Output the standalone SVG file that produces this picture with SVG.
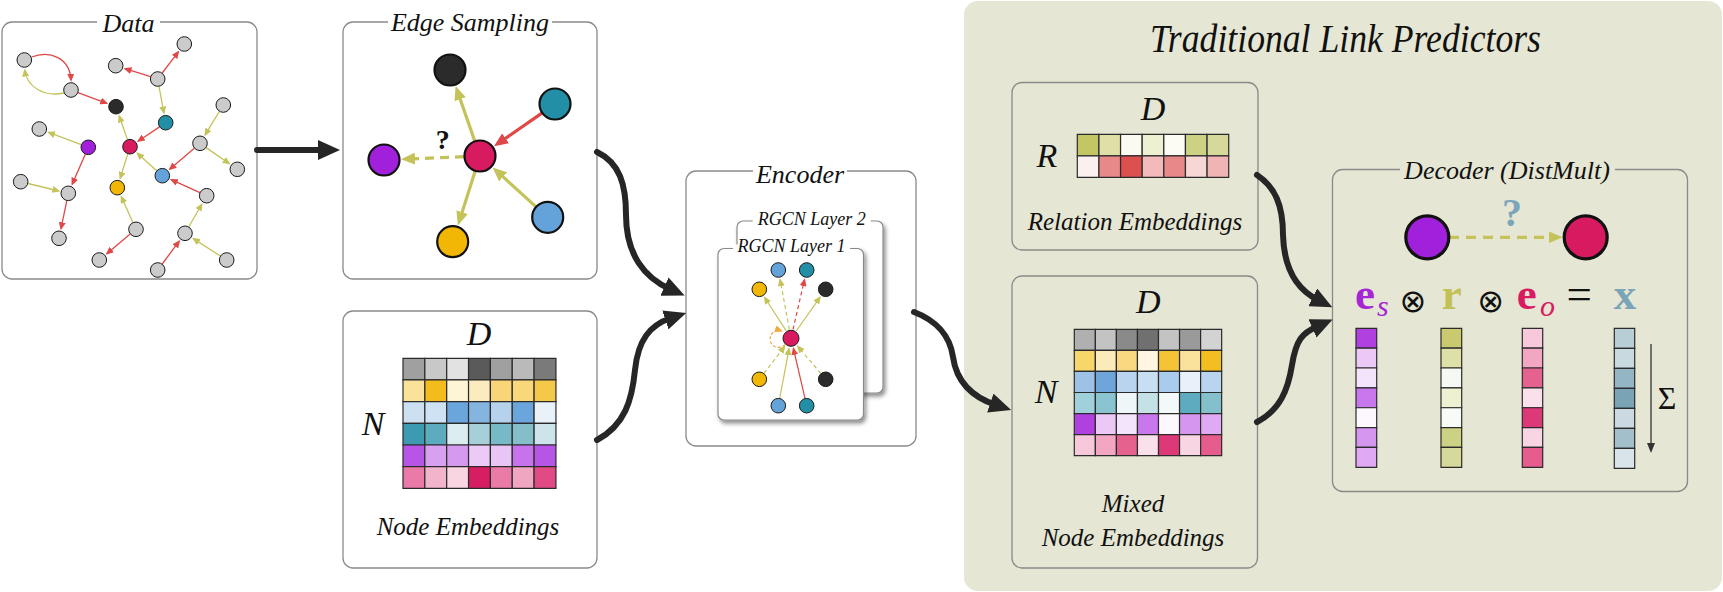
<svg xmlns="http://www.w3.org/2000/svg" width="1723" height="592" viewBox="0 0 1723 592">
<defs>
<style>
text{font-family:"Liberation Serif","Times New Roman",serif;fill:#111}
.ttl{font-size:26px;font-style:italic;text-anchor:middle}
.sub{font-size:18px;font-style:italic;text-anchor:middle}
.lab{font-size:25px;font-style:italic;text-anchor:middle}
.mat{font-size:34px;font-style:italic;text-anchor:middle}
.box{fill:#fff;stroke:#8a8a8a;stroke-width:1.3}
.boxp{fill:none;stroke:#8a8a8a;stroke-width:1.3}
.lay{fill:#fff;stroke:#8a8a8a;stroke-width:1.2}
.gapw{fill:#fff}
.gapp{fill:#e5e6d3}
.c rect{stroke:#2b2b2b;stroke-width:1.2;vector-effect:non-scaling-stroke}
.dn{stroke:#1a1a1a;stroke-width:1}
.bn{stroke:#111;stroke-width:2.2}
.dnn{stroke:#111;stroke-width:3.2}
.g{fill:#cbcbcb}.k{fill:#2b2b2b}.t{fill:#238fa6}.p{fill:#a020dc}.m{fill:#d81b60}.b{fill:#64a3d9}.y{fill:#f2b705}
.er{stroke:#e04848;fill:none}
.ey{stroke:#c4c35a;fill:none}
.d1 path{stroke-width:1.3}
.d3 path{stroke-width:1.2}
.dash{stroke-dasharray:4 3}
.big{stroke:#262626;stroke-width:6;fill:none;stroke-linecap:round}
.eq{font-size:45px;font-weight:bold}
.eqs{font-size:30px;font-style:italic}
.op{font-family:"DejaVu Sans",sans-serif;font-size:32px;text-anchor:middle}
</style>
<marker id="sr" viewBox="0 0 8 7" markerWidth="8" markerHeight="7" refX="6.5" refY="3.5" orient="auto" markerUnits="userSpaceOnUse"><path d="M0,0L8,3.5L0,7z" fill="#e04848"/></marker>
<marker id="sy" viewBox="0 0 8 7" markerWidth="8" markerHeight="7" refX="6.5" refY="3.5" orient="auto" markerUnits="userSpaceOnUse"><path d="M0,0L8,3.5L0,7z" fill="#c4c35a"/></marker>
<marker id="so" viewBox="0 0 8 7" markerWidth="8" markerHeight="7" refX="6.5" refY="3.5" orient="auto" markerUnits="userSpaceOnUse"><path d="M0,0L8,3.5L0,7z" fill="#f2a93b"/></marker>
<marker id="mr" viewBox="0 0 14 12" markerWidth="14" markerHeight="12" refX="10" refY="6" orient="auto" markerUnits="userSpaceOnUse"><path d="M0,0L14,6L0,12z" fill="#e04848"/></marker>
<marker id="my" viewBox="0 0 14 12" markerWidth="14" markerHeight="12" refX="10" refY="6" orient="auto" markerUnits="userSpaceOnUse"><path d="M0,0L14,6L0,12z" fill="#c4c35a"/></marker>
<marker id="bk" viewBox="0 0 22 20" markerWidth="22" markerHeight="20" refX="6" refY="10" orient="auto" markerUnits="userSpaceOnUse"><path d="M0,0L22,10L0,20z" fill="#262626"/></marker>
<marker id="tk" viewBox="0 0 10 8" markerWidth="10" markerHeight="8" refX="8" refY="4" orient="auto" markerUnits="userSpaceOnUse"><path d="M0,0L10,4L0,8z" fill="#333"/></marker>
<filter id="sh" x="-10%" y="-10%" width="130%" height="130%"><feDropShadow dx="2" dy="3" stdDeviation="2" flood-color="#000" flood-opacity="0.45"/></filter>
</defs>
<rect x="0" y="0" width="1723" height="592" fill="#fff"/>

<g id="panel-traditional">
<rect x="964" y="1" width="758" height="590" rx="14" fill="#e5e6d3"/>
<text x="1150" y="51.7" font-size="40" font-style="italic" textLength="391" lengthAdjust="spacingAndGlyphs">Traditional Link Predictors</text>
</g>

<g id="node-data">
<rect class="box" x="2" y="22" width="255" height="257" rx="10"/>
<rect class="gapw" x="97" y="18" width="63" height="8"/>
<text class="ttl" x="128.5" y="31.5">Data</text>
<g class="d1">
<path class="er" d="M31.5,57 C50,50 70,58 71,80.2" marker-end="url(#sr)"/>
<path class="ey" d="M64,93 C45,97 27,88 24.8,70" marker-end="url(#sy)"/>
<path class="er" d="M78,92.6L106.8,103.3" marker-end="url(#sr)"/>
<path class="er" d="M150.6,76.7L125,68.7" marker-end="url(#sr)"/>
<path class="er" d="M162.2,73L178.4,51.8" marker-end="url(#sr)"/>
<path class="ey" d="M159,86.4L163.9,113.1" marker-end="url(#sy)"/>
<path class="er" d="M159.5,126.9L138.1,141.2" marker-end="url(#sr)"/>
<path class="ey" d="M219.4,111.4L205.1,134.9" marker-end="url(#sy)"/>
<path class="ey" d="M206.2,147.6L229.3,163.7" marker-end="url(#sy)"/>
<path class="er" d="M194.3,148.2L169.7,169.3" marker-end="url(#sr)"/>
<path class="ey" d="M81.3,144.7L48.5,132.4" marker-end="url(#sy)"/>
<path class="er" d="M85.3,154.2L72.2,184.3" marker-end="url(#sr)"/>
<path class="ey" d="M28,183.5L58.8,191" marker-end="url(#sy)"/>
<path class="er" d="M66.8,200.6L61,228.7" marker-end="url(#sr)"/>
<path class="ey" d="M127.5,139.6L119.2,116" marker-end="url(#sy)"/>
<path class="ey" d="M127.8,153.9L120.2,178.3" marker-end="url(#sy)"/>
<path class="ey" d="M156.7,170.7L137.3,153.3" marker-end="url(#sy)"/>
<path class="er" d="M199.9,192.6L171.2,179.7" marker-end="url(#sr)"/>
<path class="ey" d="M132.9,222.5L121.3,196.6" marker-end="url(#sy)"/>
<path class="er" d="M130.2,234.1L106.8,253.7" marker-end="url(#sr)"/>
<path class="ey" d="M188.8,226.8L201.8,204.2" marker-end="url(#sy)"/>
<path class="er" d="M162.2,264L179.2,241.2" marker-end="url(#sr)"/>
<path class="ey" d="M220.4,256L193.3,238.6" marker-end="url(#sy)"/>
</g>
<g class="dn">
<circle class="g" cx="24.3" cy="60" r="7.3"/>
<circle class="g" cx="71" cy="90" r="7.3"/>
<circle class="k" cx="116" cy="106.7" r="7.3"/>
<circle class="g" cx="115.7" cy="65.7" r="7.3"/>
<circle class="g" cx="157.7" cy="79" r="7.3"/>
<circle class="g" cx="184.3" cy="44" r="7.3"/>
<circle class="t" cx="165.7" cy="122.7" r="7.3"/>
<circle class="g" cx="223.3" cy="105" r="7.3"/>
<circle class="g" cx="39.3" cy="129" r="7.3"/>
<circle class="p" cx="88.3" cy="147.3" r="7.3"/>
<circle class="m" cx="130" cy="146.7" r="7.3"/>
<circle class="g" cx="200" cy="143.3" r="7.3"/>
<circle class="g" cx="237.3" cy="169.3" r="7.3"/>
<circle class="b" cx="162.3" cy="175.7" r="7.3"/>
<circle class="g" cx="20.7" cy="181.7" r="7.3"/>
<circle class="g" cx="68.3" cy="193.3" r="7.3"/>
<circle class="y" cx="117.3" cy="187.7" r="7.3"/>
<circle class="g" cx="206.7" cy="195.7" r="7.3"/>
<circle class="g" cx="59" cy="238.3" r="7.3"/>
<circle class="g" cx="136" cy="229.3" r="7.3"/>
<circle class="g" cx="185" cy="233.3" r="7.3"/>
<circle class="g" cx="99.3" cy="260" r="7.3"/>
<circle class="g" cx="157.7" cy="270" r="7.3"/>
<circle class="g" cx="226.7" cy="260" r="7.3"/>
</g>
</g>

<g id="node-edge-sampling">
<rect class="box" x="343" y="22" width="254" height="257" rx="10"/>
<rect class="gapw" x="388" y="18" width="164" height="8"/>
<text class="ttl" x="470" y="31">Edge Sampling</text>
<g stroke-width="3.2">
<path class="ey" d="M474.7,140.9L456.9,89.8" marker-end="url(#my)"/>
<path class="er" d="M541.9,113.1L497.3,144" marker-end="url(#mr)"/>
<path class="ey" d="M464,156.7L405,159.1" stroke-dasharray="9 6" marker-end="url(#my)"/>
<path class="ey" d="M475.1,171.3L459.1,221.7" marker-end="url(#my)"/>
<path class="ey" d="M535.8,206.6L495.6,170.1" marker-end="url(#my)"/>
</g>
<g class="bn">
<circle class="k" cx="450" cy="70" r="15.5"/>
<circle class="t" cx="555" cy="104" r="15.5"/>
<circle class="p" cx="384" cy="160" r="15.5"/>
<circle class="m" cx="480" cy="156" r="15.5"/>
<circle class="y" cx="452.7" cy="241.7" r="15.5"/>
<circle class="b" cx="547.7" cy="217.3" r="15.5"/>
</g>
<text x="442.7" y="149" font-size="28" font-weight="bold" text-anchor="middle">?</text>
</g>

<g id="node-node-embeddings">
<rect class="box" x="343" y="311" width="254" height="257" rx="10"/>
<text class="mat" x="479" y="345">D</text>
<text class="mat" x="373" y="435">N</text>
<g class="c" transform="translate(403,358.3) scale(21.85,21.67)">
<rect x="0" y="0" width="1" height="1" fill="#a0a0a0"/><rect x="1" y="0" width="1" height="1" fill="#c8c8c8"/><rect x="2" y="0" width="1" height="1" fill="#e2e2e2"/><rect x="3" y="0" width="1" height="1" fill="#5a5a5a"/><rect x="4" y="0" width="1" height="1" fill="#a0a0a0"/><rect x="5" y="0" width="1" height="1" fill="#bababa"/><rect x="6" y="0" width="1" height="1" fill="#7a7a7a"/>
<rect x="0" y="1" width="1" height="1" fill="#fbe29a"/><rect x="1" y="1" width="1" height="1" fill="#f3bb1b"/><rect x="2" y="1" width="1" height="1" fill="#fef4d6"/><rect x="3" y="1" width="1" height="1" fill="#fbecbf"/><rect x="4" y="1" width="1" height="1" fill="#f9d577"/><rect x="5" y="1" width="1" height="1" fill="#f9d87c"/><rect x="6" y="1" width="1" height="1" fill="#f4c94a"/>
<rect x="0" y="2" width="1" height="1" fill="#cde0f2"/><rect x="1" y="2" width="1" height="1" fill="#cfe2f3"/><rect x="2" y="2" width="1" height="1" fill="#6aa5dc"/><rect x="3" y="2" width="1" height="1" fill="#85b4e0"/><rect x="4" y="2" width="1" height="1" fill="#b5d1ec"/><rect x="5" y="2" width="1" height="1" fill="#6aa5dc"/><rect x="6" y="2" width="1" height="1" fill="#eaf2f9"/>
<rect x="0" y="3" width="1" height="1" fill="#3e9ab0"/><rect x="1" y="3" width="1" height="1" fill="#5cabbe"/><rect x="2" y="3" width="1" height="1" fill="#dcedf0"/><rect x="3" y="3" width="1" height="1" fill="#a6cfd9"/><rect x="4" y="3" width="1" height="1" fill="#77b9c7"/><rect x="5" y="3" width="1" height="1" fill="#83bec9"/><rect x="6" y="3" width="1" height="1" fill="#cde5ea"/>
<rect x="0" y="4" width="1" height="1" fill="#b655e6"/><rect x="1" y="4" width="1" height="1" fill="#d7a0f0"/><rect x="2" y="4" width="1" height="1" fill="#d699f0"/><rect x="3" y="4" width="1" height="1" fill="#ecc9f6"/><rect x="4" y="4" width="1" height="1" fill="#e9c5f6"/><rect x="5" y="4" width="1" height="1" fill="#c774ec"/><rect x="6" y="4" width="1" height="1" fill="#b655e6"/>
<rect x="0" y="5" width="1" height="1" fill="#ea7ba8"/><rect x="1" y="5" width="1" height="1" fill="#f2b4cb"/><rect x="2" y="5" width="1" height="1" fill="#f9d5e2"/><rect x="3" y="5" width="1" height="1" fill="#d81e63"/><rect x="4" y="5" width="1" height="1" fill="#ea7ba8"/><rect x="5" y="5" width="1" height="1" fill="#f0a5c0"/><rect x="6" y="5" width="1" height="1" fill="#e14a85"/>
</g>
<text class="lab" x="468" y="535">Node Embeddings</text>
</g>

<g id="node-encoder">
<rect class="box" x="686" y="171" width="230" height="275" rx="10"/>
<rect class="gapw" x="753" y="167" width="94" height="8"/>
<text class="ttl" x="800" y="182.7">Encoder</text>
<g id="node-rgcn-layer-2">
<rect class="lay" x="737" y="221" width="146" height="172" rx="6" filter="url(#sh)"/>
<rect class="gapw" x="752.7" y="217" width="118" height="8"/>
<text class="sub" x="811.7" y="225">RGCN Layer 2</text>
</g>
<g id="node-rgcn-layer-1">
<rect class="lay" x="718" y="248.5" width="145.5" height="171.5" rx="6" filter="url(#sh)"/>
<rect class="gapw" x="733" y="244.5" width="117" height="8"/>
<text class="sub" x="791.5" y="251.5">RGCN Layer 1</text>
<g class="d3">
<path class="ey dash" d="M789.4,329.5L780.1,279.6" marker-end="url(#sy)"/>
<path class="er dash" d="M793,329.5L804.5,279.6" marker-end="url(#sr)"/>
<path class="ey" d="M786.1,330.7L764.6,297.5" marker-end="url(#sy)"/>
<path class="ey" d="M796.2,331L820,297.3" marker-end="url(#sy)"/>
<path class="ey dash" d="M763.9,373.4L784.6,346.6" marker-end="url(#sy)"/>
<path class="ey dash" d="M820.9,373.6L797.8,346.3" marker-end="url(#sy)"/>
<path class="ey" d="M779.7,398.3L789.1,348.6" marker-end="url(#sy)"/>
<path class="er" d="M805,398.4L793.4,348.5" marker-end="url(#sr)"/>
<path d="M785,344.5 A8.5,8.5 0 1 1 781.5,331" fill="none" stroke="#f2a93b" stroke-width="1.2" stroke-dasharray="3 2" marker-end="url(#so)"/>
</g>
<g class="dn">
<circle class="b" cx="778.3" cy="270" r="7.3"/>
<circle class="t" cx="806.7" cy="270" r="7.3"/>
<circle class="y" cx="759.3" cy="289.3" r="7.3"/>
<circle class="k" cx="825.7" cy="289.3" r="7.3"/>
<circle class="m" cx="791" cy="338.3" r="8"/>
<circle class="y" cx="759.3" cy="379.3" r="7.3"/>
<circle class="k" cx="825.7" cy="379.3" r="7.3"/>
<circle class="b" cx="778.3" cy="405.7" r="7.3"/>
<circle class="t" cx="806.7" cy="405.7" r="7.3"/>
</g>
</g>
</g>

<g id="node-relation-embeddings">
<rect class="boxp" x="1012" y="82.5" width="246" height="167.5" rx="10"/>
<text class="mat" x="1153" y="120">D</text>
<text class="mat" x="1047" y="166.7">R</text>
<g class="c" transform="translate(1077.3,134.3) scale(21.63,21.5)">
<rect x="0" y="0" width="1" height="1" fill="#c4c563"/><rect x="1" y="0" width="1" height="1" fill="#dfdfa8"/><rect x="2" y="0" width="1" height="1" fill="#fafaf0"/><rect x="3" y="0" width="1" height="1" fill="#eef0d2"/><rect x="4" y="0" width="1" height="1" fill="#fcfcf4"/><rect x="5" y="0" width="1" height="1" fill="#cdd184"/><rect x="6" y="0" width="1" height="1" fill="#d7d99a"/>
<rect x="0" y="1" width="1" height="1" fill="#fbf0f0"/><rect x="1" y="1" width="1" height="1" fill="#e88888"/><rect x="2" y="1" width="1" height="1" fill="#dc5050"/><rect x="3" y="1" width="1" height="1" fill="#f2baba"/><rect x="4" y="1" width="1" height="1" fill="#e88888"/><rect x="5" y="1" width="1" height="1" fill="#f7d6d6"/><rect x="6" y="1" width="1" height="1" fill="#f0b4b4"/>
</g>
<text class="lab" x="1135" y="230">Relation Embeddings</text>
</g>

<g id="node-mixed-embeddings">
<rect class="boxp" x="1012" y="276" width="245.5" height="292" rx="10"/>
<text class="mat" x="1148.3" y="313.3">D</text>
<text class="mat" x="1046" y="403.3">N</text>
<g class="c" transform="translate(1074.3,329.3) scale(21.05,21.07)">
<rect x="0" y="0" width="1" height="1" fill="#b0b0b0"/><rect x="1" y="0" width="1" height="1" fill="#c3c3c3"/><rect x="2" y="0" width="1" height="1" fill="#8a8a8a"/><rect x="3" y="0" width="1" height="1" fill="#707070"/><rect x="4" y="0" width="1" height="1" fill="#c3c3c3"/><rect x="5" y="0" width="1" height="1" fill="#9a9a9a"/><rect x="6" y="0" width="1" height="1" fill="#d3d3d3"/>
<rect x="0" y="1" width="1" height="1" fill="#f7d66c"/><rect x="1" y="1" width="1" height="1" fill="#fbebbb"/><rect x="2" y="1" width="1" height="1" fill="#f9d880"/><rect x="3" y="1" width="1" height="1" fill="#fff6e2"/><rect x="4" y="1" width="1" height="1" fill="#f5c436"/><rect x="5" y="1" width="1" height="1" fill="#fae29c"/><rect x="6" y="1" width="1" height="1" fill="#f3be22"/>
<rect x="0" y="2" width="1" height="1" fill="#9dc2e6"/><rect x="1" y="2" width="1" height="1" fill="#6ea6db"/><rect x="2" y="2" width="1" height="1" fill="#b8d4ee"/><rect x="3" y="2" width="1" height="1" fill="#c8def2"/><rect x="4" y="2" width="1" height="1" fill="#aacbeb"/><rect x="5" y="2" width="1" height="1" fill="#e8f0f9"/><rect x="6" y="2" width="1" height="1" fill="#b8d4ee"/>
<rect x="0" y="3" width="1" height="1" fill="#a0d0da"/><rect x="1" y="3" width="1" height="1" fill="#8ac4d0"/><rect x="2" y="3" width="1" height="1" fill="#eef6f7"/><rect x="3" y="3" width="1" height="1" fill="#c4e1e6"/><rect x="4" y="3" width="1" height="1" fill="#f3f9f9"/><rect x="5" y="3" width="1" height="1" fill="#5eaabf"/><rect x="6" y="3" width="1" height="1" fill="#83c0cb"/>
<rect x="0" y="4" width="1" height="1" fill="#b040e0"/><rect x="1" y="4" width="1" height="1" fill="#ebc8f6"/><rect x="2" y="4" width="1" height="1" fill="#f4e4fb"/><rect x="3" y="4" width="1" height="1" fill="#c877ec"/><rect x="4" y="4" width="1" height="1" fill="#fdf7fe"/><rect x="5" y="4" width="1" height="1" fill="#d596f0"/><rect x="6" y="4" width="1" height="1" fill="#dfaaf3"/>
<rect x="0" y="5" width="1" height="1" fill="#f7c8da"/><rect x="1" y="5" width="1" height="1" fill="#f2a6c2"/><rect x="2" y="5" width="1" height="1" fill="#e5628f"/><rect x="3" y="5" width="1" height="1" fill="#fae0ea"/><rect x="4" y="5" width="1" height="1" fill="#dd3877"/><rect x="5" y="5" width="1" height="1" fill="#f8d5e2"/><rect x="6" y="5" width="1" height="1" fill="#e55c8d"/>
</g>
<text class="lab" x="1133" y="512">Mixed</text>
<text class="lab" x="1133" y="546">Node Embeddings</text>
</g>

<g id="node-decoder">
<rect class="boxp" x="1332.5" y="169.5" width="355" height="322" rx="10"/>
<rect class="gapp" x="1400" y="165.5" width="215" height="8"/>
<text class="ttl" x="1507" y="178.5">Decoder (DistMult)</text>
<path class="ey" d="M1449,237.3L1558.5,237.3" stroke-width="3.3" stroke-dasharray="10 7" marker-end="url(#my)"/>
<circle class="p dnn" cx="1427.3" cy="237.3" r="21.5"/>
<circle class="m dnn" cx="1585.7" cy="237.3" r="21.5"/>
<text x="1512" y="226" font-size="40" font-weight="bold" text-anchor="middle" style="fill:#7aa5bb">?</text>
<text class="eq" x="1355" y="309" style="fill:#a626d6">e</text>
<text class="eqs" x="1377" y="316" style="fill:#a626d6">s</text>
<text class="op" x="1413" y="311.5">⊗</text>
<text class="eq" x="1451.7" y="309" text-anchor="middle" style="fill:#c2c155">r</text>
<text class="op" x="1490.7" y="311.5">⊗</text>
<text class="eq" x="1516.7" y="309" style="fill:#d81b60">e</text>
<text class="eqs" x="1540" y="316" style="fill:#d81b60">o</text>
<text x="1579.3" y="309" font-size="45" text-anchor="middle">=</text>
<text class="eq" x="1625" y="309" text-anchor="middle" style="fill:#7aa5b8">x</text>
<g class="c" transform="translate(1356,328.3) scale(20.7,19.86)">
<rect x="0" y="0" width="1" height="1" fill="#b040e0"/><rect x="0" y="1" width="1" height="1" fill="#ebc8f6"/><rect x="0" y="2" width="1" height="1" fill="#f4e4fb"/><rect x="0" y="3" width="1" height="1" fill="#c877ec"/><rect x="0" y="4" width="1" height="1" fill="#fdf7fe"/><rect x="0" y="5" width="1" height="1" fill="#d596f0"/><rect x="0" y="6" width="1" height="1" fill="#dfaaf3"/>
</g>
<g class="c" transform="translate(1441,328.3) scale(20.7,19.86)">
<rect x="0" y="0" width="1" height="1" fill="#c9ca70"/><rect x="0" y="1" width="1" height="1" fill="#dfdfa8"/><rect x="0" y="2" width="1" height="1" fill="#f6f8f4"/><rect x="0" y="3" width="1" height="1" fill="#eef0d2"/><rect x="0" y="4" width="1" height="1" fill="#f8faf8"/><rect x="0" y="5" width="1" height="1" fill="#cdd184"/><rect x="0" y="6" width="1" height="1" fill="#d7d99a"/>
</g>
<g class="c" transform="translate(1522.3,328.3) scale(20.4,19.86)">
<rect x="0" y="0" width="1" height="1" fill="#f7c8da"/><rect x="0" y="1" width="1" height="1" fill="#f2a6c2"/><rect x="0" y="2" width="1" height="1" fill="#e5628f"/><rect x="0" y="3" width="1" height="1" fill="#fae0ea"/><rect x="0" y="4" width="1" height="1" fill="#dd3877"/><rect x="0" y="5" width="1" height="1" fill="#f8d5e2"/><rect x="0" y="6" width="1" height="1" fill="#e55c8d"/>
</g>
<g class="c" transform="translate(1614.3,328.3) scale(20.4,20)">
<rect x="0" y="0" width="1" height="1" fill="#b8ced6"/><rect x="0" y="1" width="1" height="1" fill="#c8d9e0"/><rect x="0" y="2" width="1" height="1" fill="#93b5c4"/><rect x="0" y="3" width="1" height="1" fill="#7aa3b6"/><rect x="0" y="4" width="1" height="1" fill="#cbdae2"/><rect x="0" y="5" width="1" height="1" fill="#a3bfcc"/><rect x="0" y="6" width="1" height="1" fill="#d8e4ea"/>
</g>
<path d="M1651,344L1651,451" stroke="#333" stroke-width="1.3" fill="none" marker-end="url(#tk)"/>
<text x="1667" y="409" font-size="32" text-anchor="middle">Σ</text>
</g>

<g id="connectors">
<path class="big" d="M257,150L324,150" marker-end="url(#bk)"/>
<path class="big" d="M597,152 C620,163 626,185 626,215 C626,255 645,278 670,289" marker-end="url(#bk)"/>
<path class="big" d="M597,440 C625,425 632,400 635,370 C638,340 650,325 671,318" marker-end="url(#bk)"/>
<path class="big" d="M914,312 C935,320 950,335 953,357 C957,385 975,398 996,405" marker-end="url(#bk)"/>
<path class="big" d="M1257,175 C1275,187 1283,205 1283,235 C1284,270 1298,290 1318,300" marker-end="url(#bk)"/>
<path class="big" d="M1257,422 C1280,410 1288,390 1292,365 C1296,340 1302,333 1318,326" marker-end="url(#bk)"/>
</g>
</svg>
